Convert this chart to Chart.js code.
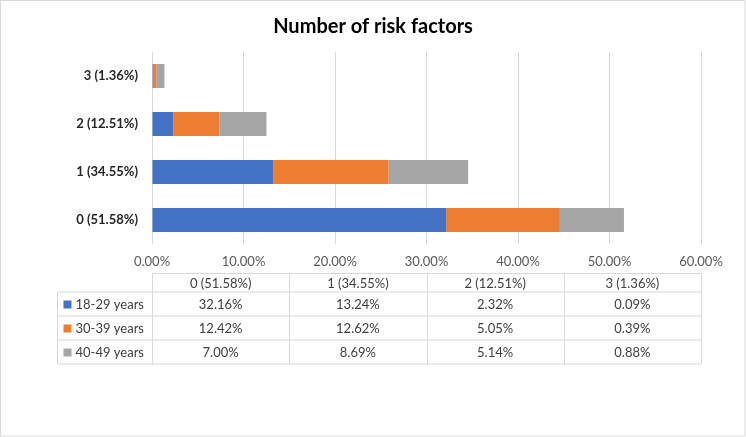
<!DOCTYPE html>
<html>
<head>
<meta charset="utf-8">
<script src="https://cdn.jsdelivr.net/npm/chart.js@4"></script>
<style>
    html, body { margin: 0; padding: 0; background: #fff; }
    #wrap { width: 746px; height: 437px; }
</style>
</head>
<body>
<div id="wrap"><canvas id="riskChart" width="746" height="437"></canvas></div>
<script>
// Categories (bottom to top on the chart, left to right in the table)
const categories = ['0 (51.58%)', '1 (34.55%)', '2 (12.51%)', '3 (1.36%)'];
const seriesNames = ['18-29 years', '30-39 years', '40-49 years'];
const age18to29 = [32.16, 13.24, 2.32, 0.09];
const age30to39 = [12.42, 12.62, 5.05, 0.39];
const age40to49 = [7.00, 8.69, 5.14, 0.88];
const seriesColors = ['#4472C4', '#ED7D31', '#A5A5A5'];
const xMin = 0, xMax = 60, xStep = 10;

const FONT = 'Lato, "Open Sans", sans-serif';
const fmt = v => v.toFixed(2) + '%';

// Draws the white background and the outer frame
const framePlugin = {
    id: 'frame',
    beforeDraw(chart) {
        const ctx = chart.ctx;
        ctx.save();
        ctx.fillStyle = '#fff';
        ctx.fillRect(0, 0, chart.width, chart.height);
        ctx.strokeStyle = '#d9d9d9';
        ctx.lineWidth = 1;
        ctx.strokeRect(0.5, 0.5, chart.width - 1.5, chart.height - 1.5);
        ctx.restore();
    }
};

// Draws the data table under the x axis, one column per category
const dataTablePlugin = {
    id: 'dataTable',
    afterDraw(chart) {
        const ctx = chart.ctx;
        const area = chart.chartArea;
        const colW = (area.right - area.left) / categories.length;
        const legendLeft = area.left - 94.5;
        const top = Math.round(area.bottom + 29) + 0.5;
        const headH = 18.5;
        const rowH = 24;
        const values = chart.data.datasets.map(d => d.data);
        const bottom = top + headH + rowH * values.length;

        ctx.save();
        ctx.strokeStyle = '#d9d9d9';
        ctx.lineWidth = 1;
        ctx.beginPath();
        // header top line (only over the category columns)
        ctx.moveTo(area.left, top); ctx.lineTo(area.right, top);
        // row lines
        for (let r = 0; r <= values.length; r++) {
            const y = top + headH + r * rowH;
            ctx.moveTo(legendLeft, y); ctx.lineTo(area.right, y);
        }
        // vertical lines
        ctx.moveTo(legendLeft, top + headH); ctx.lineTo(legendLeft, bottom);
        for (let c = 0; c <= categories.length; c++) {
            const x = Math.round(area.left + c * colW) + 0.5;
            ctx.moveTo(x, top); ctx.lineTo(x, bottom);
        }
        ctx.stroke();

        ctx.font = '13px ' + FONT;
        ctx.fillStyle = '#404040';
        ctx.textBaseline = 'middle';
        ctx.textAlign = 'center';
        categories.forEach((cat, c) => {
            ctx.fillText(cat, area.left + (c + 0.5) * colW, top + headH / 2 + 1);
        });
        values.forEach((row, r) => {
            const cy = top + headH + r * rowH + rowH / 2 + 1;
            row.forEach((v, c) => {
                ctx.fillText(fmt(v), area.left + (c + 0.5) * colW, cy);
            });
            // legend key + series name
            ctx.fillStyle = seriesColors[r];
            ctx.fillRect(legendLeft + 6, cy - 4.5, 8, 8);
            ctx.fillStyle = '#404040';
            ctx.textAlign = 'left';
            ctx.fillText(seriesNames[r], legendLeft + 18, cy);
            ctx.textAlign = 'center';
        });
        ctx.restore();
    }
};

new Chart(document.getElementById('riskChart').getContext('2d'), {
    type: 'bar',
    data: {
        labels: categories,
        datasets: [
            { label: seriesNames[0], data: age18to29, backgroundColor: seriesColors[0] },
            { label: seriesNames[1], data: age30to39, backgroundColor: seriesColors[1] },
            { label: seriesNames[2], data: age40to49, backgroundColor: seriesColors[2] }
        ]
    },
    options: {
        indexAxis: 'y',
        responsive: false,
        animation: false,
        devicePixelRatio: 1,
        barPercentage: 0.5,
        categoryPercentage: 1,
        // symmetric side padding keeps the title centred on the canvas
        layout: { padding: { left: 45, right: 45, top: 0, bottom: 163 } },
        plugins: {
            legend: { display: false },
            tooltip: { enabled: false },
            title: {
                display: true,
                text: 'Number of risk factors',
                color: '#000',
                font: { family: FONT, size: 20, weight: 'bold' },
                padding: { top: 15, bottom: 13 }
            }
        },
        scales: {
            x: {
                stacked: true,
                min: xMin,
                max: xMax,
                ticks: {
                    stepSize: xStep,
                    padding: 10,
                    color: '#595959',
                    font: { family: FONT, size: 13 },
                    callback: v => fmt(v)
                },
                grid: { color: '#d9d9d9', drawTicks: false },
                border: { display: false },
                afterFit: s => { s.height = 30; }
            },
            y: {
                stacked: true,
                reverse: true,
                ticks: {
                    padding: 14,
                    color: '#262626',
                    font: { family: FONT, size: 13, weight: 'bold' }
                },
                grid: { display: false, drawTicks: false },
                border: { display: false },
                afterFit: s => { s.width = 107; }
            }
        }
    },
    plugins: [framePlugin, dataTablePlugin]
});
</script>
</body>
</html>
